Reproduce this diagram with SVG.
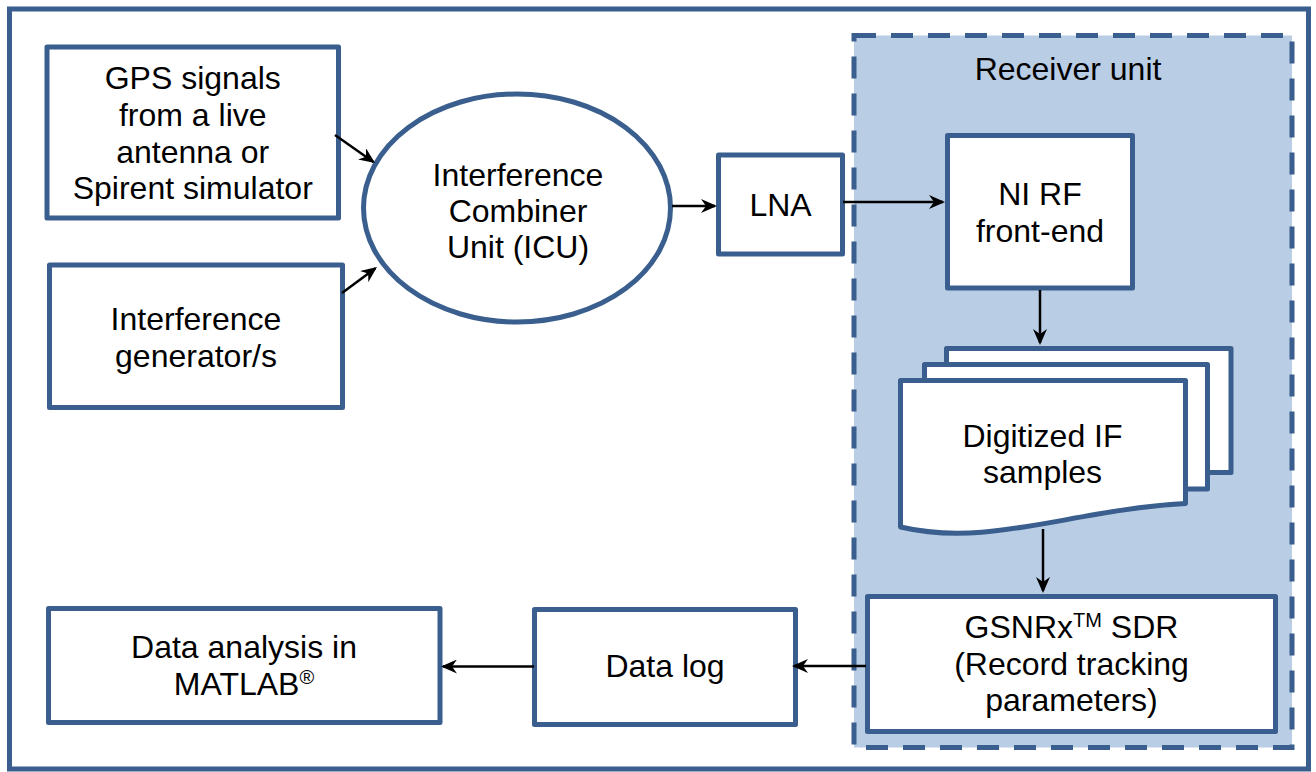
<svg xmlns="http://www.w3.org/2000/svg" width="1316" height="772" viewBox="0 0 1316 772">
  <style>
    .box { fill: #ffffff; stroke: #3a5f8e; stroke-width: 5; stroke-linejoin: round; }
    .lbl { font-family: "Liberation Sans", Arial, sans-serif; font-size: 32px; fill: #000000; text-anchor: middle; }
    .sup { font-size: 20px; }
    .wire { fill: none; stroke: #000000; stroke-width: 2.5; marker-end: url(#head); }
  </style>
  <defs>
    <marker id="head" viewBox="0 0 16 14" refX="14" refY="7" markerWidth="16" markerHeight="14" markerUnits="userSpaceOnUse" orient="auto">
      <path d="M0,0 L16,7 L0,14 L5,7 Z" fill="#000000"/>
    </marker>
  </defs>

  <!-- outer frame -->
  <rect x="9.5" y="9" width="1299" height="760" fill="#ffffff" stroke="#3a5f8e" stroke-width="5"/>

  <!-- receiver unit container -->
  <g id="receiver-unit">
    <rect x="854" y="35.5" width="438" height="712" fill="#b9cde5" stroke="#3a5f8e" stroke-width="5" stroke-dasharray="22 15"/>
    <text class="lbl" x="1068" y="80">Receiver unit</text>
  </g>

  <g id="gps">
    <rect class="box" x="47" y="47" width="291.5" height="171"/>
    <text class="lbl" x="192.75" y="89">GPS signals</text>
    <text class="lbl" x="192.75" y="126">from a live</text>
    <text class="lbl" x="192.75" y="162.5">antenna or</text>
    <text class="lbl" x="192.75" y="199">Spirent simulator</text>
  </g>

  <g id="interference-gen">
    <rect class="box" x="49.5" y="265" width="293" height="142.5"/>
    <text class="lbl" x="196" y="330">Interference</text>
    <text class="lbl" x="196" y="367">generator/s</text>
  </g>

  <g id="icu">
    <ellipse class="box" cx="517" cy="208" rx="153.5" ry="114"/>
    <text class="lbl" x="518" y="186">Interference</text>
    <text class="lbl" x="518" y="222">Combiner</text>
    <text class="lbl" x="518" y="258">Unit (ICU)</text>
  </g>

  <g id="lna">
    <rect class="box" x="718.5" y="155" width="124" height="99"/>
    <text class="lbl" x="780.5" y="216">LNA</text>
  </g>

  <g id="ni-rf">
    <rect class="box" x="947.5" y="135.5" width="185" height="152.5"/>
    <text class="lbl" x="1040" y="205">NI RF</text>
    <text class="lbl" x="1040" y="241.5">front-end</text>
  </g>

  <g id="if-samples">
    <rect class="box" x="946.5" y="348.5" width="284.5" height="124"/>
    <rect class="box" x="924.5" y="364.5" width="283" height="124.5"/>
    <path class="box" d="M900.5,380.5 H1185.5 V503.5 C1070,510 990,548 900.5,527 Z"/>
    <text class="lbl" x="1042.5" y="447">Digitized IF</text>
    <text class="lbl" x="1042.5" y="483">samples</text>
  </g>

  <g id="gsnrx">
    <rect class="box" x="867.5" y="596.5" width="408" height="135"/>
    <text class="lbl" x="1071.5" y="638">GSNRx<tspan class="sup" dy="-11">TM</tspan><tspan dy="11"> SDR</tspan></text>
    <text class="lbl" x="1071.5" y="675">(Record tracking</text>
    <text class="lbl" x="1071.5" y="711">parameters)</text>
  </g>

  <g id="data-log">
    <rect class="box" x="534.5" y="609.5" width="261" height="115"/>
    <text class="lbl" x="665" y="677">Data log</text>
  </g>

  <g id="data-analysis">
    <rect class="box" x="48.5" y="608.5" width="391.5" height="114"/>
    <text class="lbl" x="244" y="658">Data analysis in</text>
    <text class="lbl" x="244" y="695">MATLAB<tspan class="sup" dy="-11">®</tspan></text>
  </g>

  <!-- connectors -->
  <g id="connectors">
    <line class="wire" x1="335" y1="135" x2="373.4" y2="161.9"/>
    <line class="wire" x1="342" y1="293" x2="375.4" y2="268.2"/>
    <line class="wire" x1="672" y1="206" x2="715" y2="206"/>
    <line class="wire" x1="843" y1="202" x2="943" y2="202"/>
    <line class="wire" x1="1040" y1="290" x2="1040" y2="343"/>
    <line class="wire" x1="1043" y1="529" x2="1043" y2="591"/>
    <line class="wire" x1="866" y1="666" x2="794" y2="666"/>
    <line class="wire" x1="534" y1="666.5" x2="443" y2="666.5"/>
  </g>
</svg>
